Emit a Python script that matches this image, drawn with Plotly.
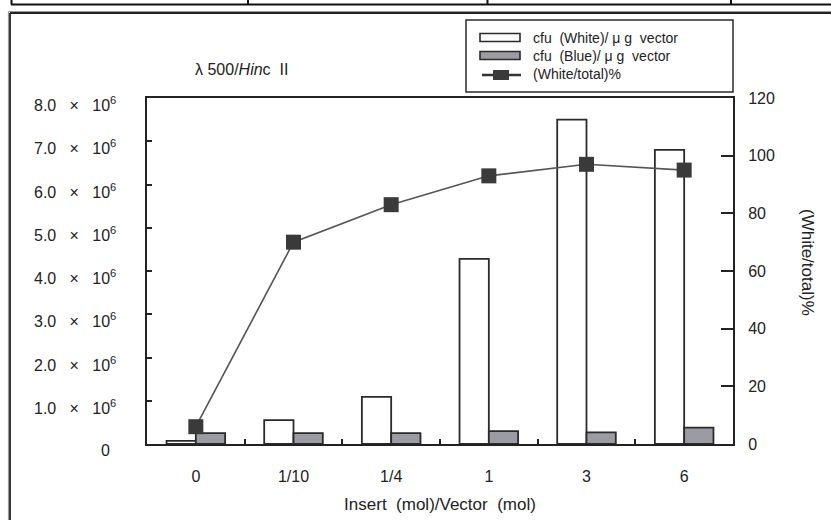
import plotly.graph_objects as go

# ---- data ----
categories = ["0", "1/10", "1/4", "1", "3", "6"]
cfu_white = [0.07e6, 0.55e6, 1.09e6, 4.28e6, 7.5e6, 6.8e6]
cfu_blue = [0.25e6, 0.25e6, 0.25e6, 0.30e6, 0.27e6, 0.38e6]
white_pct = [6, 70, 83, 93, 97, 95]
left_tick_vals = [0, 1e6, 2e6, 3e6, 4e6, 5e6, 6e6, 7e6, 8e6]
left_tick_text = ["0", "1.0", "2.0", "3.0", "4.0", "5.0", "6.0", "7.0", "8.0"]
right_tick_vals = [0, 20, 40, 60, 80, 100, 120]

W, H = 831, 520
L, R, T, B = 147, 98, 98, 76
PW, PH = W - L - R, H - T - B
FONT = "Liberation Sans, Arial, sans-serif"
INK = "#222222"
NB = "\u00a0"


def px(x):
    return (x - L) / PW


def py(y):
    return (H - B - y) / PH


fig = go.Figure()
fig.add_trace(go.Bar(
    x=categories, y=cfu_white, name="cfu (White)/ μ g vector",
    marker=dict(color="white", line=dict(color="#2a2a2a", width=1.8)),
    yaxis="y",
))
fig.add_trace(go.Bar(
    x=categories, y=cfu_blue, name="cfu (Blue)/ μ g vector",
    marker=dict(color="#9b9ba3", line=dict(color="#2a2a2a", width=1.8)),
    yaxis="y",
))
fig.add_trace(go.Scatter(
    x=categories, y=white_pct, name="(White/total)%", yaxis="y2",
    mode="lines+markers",
    line=dict(color="#555555", width=1.6),
    marker=dict(symbol="square", size=15, color="#3a3a3a"),
))

annotations = []
# left tick labels
for v, t in zip(left_tick_vals, left_tick_text):
    if t == "0":
        txt = "0"
        xs = -35
    else:
        txt = f"{t}{NB}{NB}{NB}×{NB}{NB}{NB}10<sup>6</sup>"
        xs = -29
    annotations.append(dict(
        x=0, xref="paper", y=v, yref="y", text=txt, showarrow=False,
        xanchor="right", yanchor="middle", xshift=xs, yshift=-6,
        font=dict(family=FONT, size=16, color=INK),
    ))

# panel title
annotations.append(dict(
    x=px(193), y=py(70), xref="paper", yref="paper",
    text=f"λ{NB}500/<i>Hin</i>c{NB}{NB}II", showarrow=False,
    xanchor="left", yanchor="middle",
    font=dict(family=FONT, size=16, color=INK),
))
# right axis title
annotations.append(dict(
    x=px(808), y=py(262), xref="paper", yref="paper",
    text="(White/total)%", textangle=90, showarrow=False,
    xanchor="center", yanchor="middle",
    font=dict(family=FONT, size=17, color=INK),
))

# custom legend
leg_font = dict(family=FONT, size=14, color=INK)
leg_items = ["cfu  (White)/ μ g  vector", "cfu  (Blue)/ μ g  vector", "(White/total)%"]
leg_y = [37.5, 55.5, 73.5]
for txt, yy in zip(leg_items, leg_y):
    annotations.append(dict(
        x=px(531), y=py(yy), xref="paper", yref="paper",
        text=txt.replace(" ", NB), showarrow=False,
        xanchor="left", yanchor="middle", font=leg_font,
    ))

shapes = []
# legend box
shapes.append(dict(type="rect", xref="paper", yref="paper",
                   x0=px(466), x1=px(733), y0=py(20), y1=py(92),
                   line=dict(color="#2a2a2a", width=1.5), fillcolor="rgba(0,0,0,0)"))
shapes.append(dict(type="rect", xref="paper", yref="paper",
                   x0=px(480), x1=px(520), y0=py(33.5), y1=py(41.5),
                   line=dict(color="#2a2a2a", width=1.6), fillcolor="white"))
shapes.append(dict(type="rect", xref="paper", yref="paper",
                   x0=px(480), x1=px(520), y0=py(51.5), y1=py(59.5),
                   line=dict(color="#2a2a2a", width=1.6), fillcolor="#9b9ba3"))
shapes.append(dict(type="line", xref="paper", yref="paper",
                   x0=px(482), x1=px(521), y0=py(75), y1=py(75),
                   line=dict(color="#333333", width=2.5)))
shapes.append(dict(type="rect", xref="paper", yref="paper",
                   x0=px(493), x1=px(509), y0=py(70), y1=py(80),
                   line=dict(width=0), fillcolor="#3a3a3a"))

# page frame (scanned document borders)
shapes.append(dict(type="line", xref="paper", yref="paper",
                   x0=px(11), x1=px(831), y0=py(4.5), y1=py(4.5),
                   line=dict(color="#111111", width=2.2)))
for xv in [11.5, 248, 487.5, 731]:
    shapes.append(dict(type="line", xref="paper", yref="paper",
                       x0=px(xv), x1=px(xv), y0=py(0), y1=py(4.5),
                       line=dict(color="#111111", width=2)))
shapes.append(dict(type="line", xref="paper", yref="paper",
                   x0=px(8.5), x1=px(831), y0=py(11.5), y1=py(11.5),
                   line=dict(color="#9a9a9a", width=1.2)))
shapes.append(dict(type="line", xref="paper", yref="paper",
                   x0=px(10), x1=px(831), y0=py(13), y1=py(13),
                   line=dict(color="#222222", width=1.8)))
shapes.append(dict(type="line", xref="paper", yref="paper",
                   x0=px(8.5), x1=px(8.5), y0=py(11.5), y1=py(520),
                   line=dict(color="#9a9a9a", width=1.2)))
shapes.append(dict(type="line", xref="paper", yref="paper",
                   x0=px(10), x1=px(10), y0=py(13), y1=py(520),
                   line=dict(color="#222222", width=1.8)))

fig.update_layout(
    width=W, height=H,
    margin=dict(l=L, r=R, t=T, b=B, autoexpand=False),
    paper_bgcolor="white", plot_bgcolor="white",
    barmode="group", bargap=0.4, bargroupgap=0,
    showlegend=False,
    font=dict(family=FONT, size=15, color=INK),
    xaxis=dict(
        type="category", categoryorder="array", categoryarray=categories,
        showline=True, linecolor="#222222", linewidth=2, mirror=True,
        ticks="inside", ticklen=5, tickwidth=1.5, tickcolor="#222222",
        tickson="boundaries", showgrid=False, zeroline=False,
        tickfont=dict(family=FONT, size=16, color=INK),
        ticklabelstandoff=17, automargin=False,
        title=dict(text=f"Insert{NB}{NB}(mol)/Vector{NB}{NB}(mol)",
                   font=dict(family=FONT, size=17, color=INK), standoff=14),
    ),
    yaxis=dict(
        range=[0, 8e6], tickvals=left_tick_vals, showticklabels=False,
        showline=True, linecolor="#222222", linewidth=2,
        ticks="inside", ticklen=5, tickwidth=1.5, tickcolor="#222222",
        showgrid=False, zeroline=False, automargin=False,
    ),
    yaxis2=dict(
        range=[0, 120], tickvals=right_tick_vals, overlaying="y", side="right",
        showline=True, linecolor="#222222", linewidth=2,
        ticks="inside", ticklen=12, tickwidth=1.5, tickcolor="#222222",
        showgrid=False, zeroline=False, automargin=False,
        tickfont=dict(family=FONT, size=16, color=INK),
        ticklabelstandoff=10,
    ),
    annotations=annotations,
    shapes=shapes,
)

fig.write_html(
    "out.html",
    config={"displayModeBar": False},
    post_script="document.body.style.margin='0';document.body.style.overflow='hidden';",
)
